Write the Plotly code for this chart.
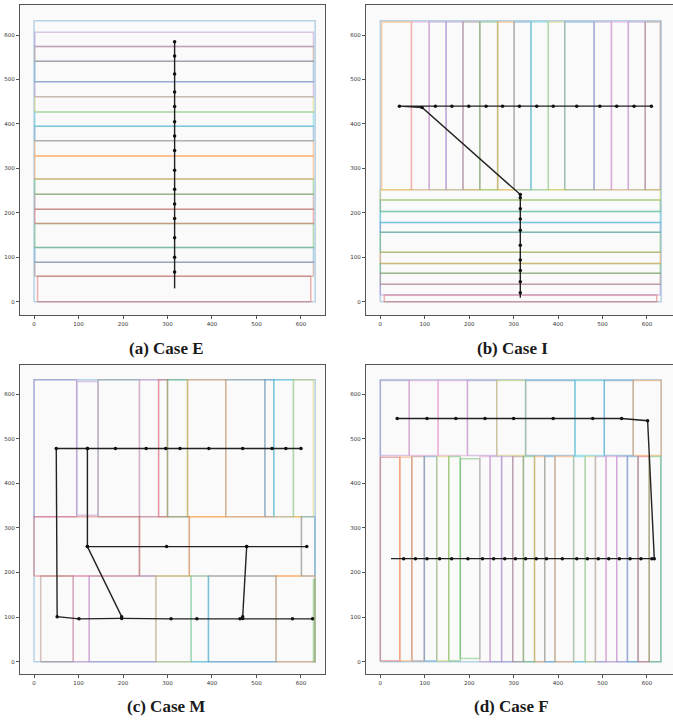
import plotly.graph_objects as go

# ---------------- data ----------------
# Room outline shared by all cases
room = [0, 632, 0, 632]

# Case E : horizontal strips  (x0, x1, y0, y1)
E_x0 = [8, 2, 2, 2, 2, 2, 2, 2, 2, 2, 2, 2, 2, 2, 2, 2]
E_x1 = [622, 628, 628, 628, 628, 628, 628, 628, 628, 628, 628, 628, 628, 628, 628, 628]
E_y0 = [0, 57, 89, 122, 176, 208, 242, 276, 328, 362, 395, 427, 461, 495, 541, 574]
E_y1 = [57, 89, 122, 176, 208, 242, 276, 328, 362, 395, 427, 461, 495, 541, 574, 606]
E_col = ["red", "brown", "blue", "green", "red", "brown", "green", "orange", "orange",
         "blue", "cyan", "olive", "purple", "blue", "brown", "purple"]
E_path_x = [316] * 16
E_path_y = [30, 67, 100, 144, 187, 220, 253, 296, 340, 373, 405, 439, 472, 512, 553, 585]

# Case I : vertical strips on top, horizontal strips below
I_x0 = [3, 70, 110, 148, 186, 224, 264, 301, 339, 378, 415, 481, 520, 558, 596,
        9, 0, 0, 0, 0, 0, 0, 0, 0, 0]
I_x1 = [70, 110, 148, 186, 224, 264, 301, 339, 378, 415, 481, 520, 558, 596, 630,
        622, 630, 630, 630, 630, 630, 630, 630, 630, 630]
I_y0 = [252] * 15 + [0, 15, 39, 64, 86, 111, 156, 178, 203, 229]
I_y1 = [629] * 15 + [15, 39, 64, 86, 111, 156, 178, 203, 229, 252]
I_col = ["orange", "pink", "purple", "purple", "brown", "green", "orange", "blue", "cyan",
         "olive", "blue", "purple", "pink", "purple", "brown",
         "red", "purple", "brown", "green", "orange", "green", "blue", "cyan", "green", "olive"]
I_path_x = [315, 315, 315, 315, 315, 315, 315, 315, 315, 315, 315, 94, 43,
            124, 161, 199, 238, 275, 313, 352, 389, 442, 494, 532, 571, 610]
I_path_y = [9, 20, 45, 70, 94, 127, 161, 186, 209, 234, 241, 437, 440,
            440, 440, 440, 440, 440, 440, 440, 440, 440, 440, 440, 440, 440]

# Case M : mixed layout
M_x0 = [0, 96, 144, 237, 280, 300, 345, 431, 519, 539, 583,
        0, 237, 349, 601,
        15, 88, 124, 274, 353, 392, 544, 628]
M_x1 = [96, 144, 237, 280, 300, 345, 431, 519, 539, 583, 628,
        237, 349, 601, 631,
        88, 124, 274, 353, 392, 544, 631, 631]
M_y0 = [325, 328, 325, 325, 325, 325, 325, 325, 325, 325, 325,
        192, 192, 192, 192,
        0, 0, 0, 0, 0, 0, 0, 0]
M_y1 = [632, 628, 632, 632, 632, 632, 632, 632, 632, 632, 632,
        325, 325, 325, 325,
        192, 192, 192, 192, 192, 192, 192, 185]
M_col = ["purple", "purple", "gray", "pink", "red", "green", "orange", "gray", "blue", "cyan", "olive",
         "red", "brown", "orange", "blue",
         "brown", "pink", "purple", "olive", "cyan", "blue", "orange", "green"]
M_path_x = [52, 120, 183, 252, 296, 328, 393, 469, 535, 566, 600, None,
            50, 52, 101, 197, 308, 366, 463, 469, 581, 626, None,
            120, 120, 298, 478, 613, None,
            120, 197, None,
            478, 469]
M_path_y = [478, 478, 478, 478, 478, 478, 478, 478, 478, 478, 478, None,
            478, 101, 96, 97, 96, 96, 96, 97, 96, 96, None,
            478, 258, 258, 258, 258, None,
            258, 101, None,
            258, 101]

# Case F : vertical strips in two bands
F_x0 = [0, 65, 130, 196, 262, 327, 438, 504, 569,
        0, 44, 71, 99, 127, 154, 180, 224, 247, 273, 298, 322, 347, 370, 393, 435,
        461, 484, 508, 532, 556, 580, 605]
F_x1 = [65, 130, 196, 262, 327, 438, 504, 569, 632,
        44, 71, 99, 127, 154, 180, 224, 247, 273, 298, 322, 347, 370, 393, 435, 461,
        484, 508, 532, 556, 580, 605, 631]
F_y0 = [462] * 9 + [2, 2, 2, 2, 2, 2, 7] + [0] * 16
F_y1 = [630] * 9 + [458, 458, 460, 460, 460, 460, 455] + [460] * 16
F_col = ["purple", "pink", "pink", "purple", "olive", "blue", "cyan", "blue", "orange",
         "red", "orange", "brown", "blue", "olive", "green", "green", "pink", "purple",
         "purple", "brown", "green", "orange", "blue", "orange", "cyan", "olive", "purple",
         "pink", "purple", "blue", "red", "green"]
F_path_x = [24, 52.5, 79, 105, 133.5, 160.5, 197, 230, 255, 280, 304, 327, 351, 374,
            409.5, 442, 466, 490.5, 514, 538, 562, 586.5, 611, 616.5,
            601.5, 543, 478, 389, 300, 235.6, 170, 105, 38]
F_path_y = [231] * 24 + [540, 545, 545, 545, 545, 545, 545, 545, 545]

captions = ["(a) Case E", "(b) Case I", "(c) Case M", "(d) Case F"]
tick_vals = [0, 100, 200, 300, 400, 500, 600]

# ---------------- styling ----------------
TAB10 = {"blue": (31, 119, 180), "orange": (255, 127, 14), "green": (44, 160, 44),
         "red": (214, 39, 40), "purple": (148, 103, 189), "brown": (140, 86, 75),
         "pink": (227, 119, 194), "gray": (127, 127, 127), "olive": (188, 189, 34),
         "cyan": (23, 190, 207)}


def rgba(name, a=0.35):
    r, g, b = TAB10[name]
    return f"rgba({r},{g},{b},{a})"


W, H = 673, 721
panels = [
    dict(rects=(E_x0, E_x1, E_y0, E_y1, E_col), path=(E_path_x, E_path_y),
         px=(20, 325), py=(5, 315), xr=(-31.5, 654), yr=(-29.9, 667.5), right=True,
         cap=(166, 348)),
    dict(rects=(I_x0, I_x1, I_y0, I_y1, I_col), path=(I_path_x, I_path_y),
         px=(366, 673), py=(5, 315), xr=(-32.2, 658.6), yr=(-29.9, 667.5), right=False,
         cap=(512, 348)),
    dict(rects=(M_x0, M_x1, M_y0, M_y1, M_col), path=(M_path_x, M_path_y),
         px=(20, 325), py=(365, 674), xr=(-31.5, 654), yr=(-27.6, 665), right=True,
         cap=(166, 706)),
    dict(rects=(F_x0, F_x1, F_y0, F_y1, F_col), path=(F_path_x, F_path_y),
         px=(366, 673), py=(365, 674), xr=(-32.2, 658.6), yr=(-27.6, 665), right=False,
         cap=(511, 706)),
]

fig = go.Figure()
layout = {}
annotations = []

for i, p in enumerate(panels, start=1):
    xa = "x" if i == 1 else f"x{i}"
    ya = "y" if i == 1 else f"y{i}"
    xkey = "xaxis" if i == 1 else f"xaxis{i}"
    ykey = "yaxis" if i == 1 else f"yaxis{i}"

    # room outline
    fig.add_trace(go.Scatter(
        x=[room[0], room[1], room[1], room[0], room[0]],
        y=[room[2], room[2], room[3], room[3], room[2]],
        mode="lines", line=dict(color=rgba("blue", 0.3), width=1.5),
        xaxis=xa, yaxis=ya, hoverinfo="skip", showlegend=False))

    x0s, x1s, y0s, y1s, cols = p["rects"]
    for x0, x1, y0, y1, c in zip(x0s, x1s, y0s, y1s, cols):
        fig.add_trace(go.Scatter(
            x=[x0, x1, x1, x0, x0], y=[y0, y0, y1, y1, y0],
            mode="lines", line=dict(color=rgba(c), width=1.5),
            xaxis=xa, yaxis=ya, hoverinfo="skip", showlegend=False))

    px_, py_ = p["path"]
    fig.add_trace(go.Scatter(
        x=px_, y=py_, mode="lines", line=dict(color="#222222", width=1.4),
        xaxis=xa, yaxis=ya, hoverinfo="skip", showlegend=False, connectgaps=False))
    mx = [v for v in px_[1:]]
    my = [v for v in py_[1:]]
    fig.add_trace(go.Scatter(
        x=mx, y=my, mode="markers",
        marker=dict(color="#111111", size=3.5, symbol="circle"),
        xaxis=xa, yaxis=ya, hoverinfo="skip", showlegend=False))

    dx = [p["px"][0] / W, p["px"][1] / W]
    dy = [1 - p["py"][1] / H, 1 - p["py"][0] / H]
    common = dict(showgrid=False, zeroline=False, showline=True, linecolor="#555555",
                  linewidth=1.3, ticks="outside", ticklen=3, tickwidth=0.8,
                  tickcolor="#555555", tickvals=tick_vals,
                  tickfont=dict(size=5.5, color="#333333", family="DejaVu Sans"),
                  fixedrange=True)
    layout[xkey] = dict(common, domain=dx, range=list(p["xr"]), anchor=ya, mirror=True)
    layout[ykey] = dict(common, domain=dy, range=list(p["yr"]), anchor=xa,
                        mirror=p["right"])

    annotations.append(dict(
        text=f"<b>{captions[i - 1]}</b>", xref="paper", yref="paper",
        x=p["cap"][0] / W, y=1 - p["cap"][1] / H, xanchor="center", yanchor="middle",
        showarrow=False, font=dict(family="Liberation Serif", size=17, color="#1a1a1a")))

fig.update_layout(
    width=W, height=H, margin=dict(l=0, r=0, t=0, b=0),
    paper_bgcolor="white", plot_bgcolor="#fafafb",
    annotations=annotations, showlegend=False, **layout)

fig.write_html("out.html", config={"displayModeBar": False},
               post_script="document.body.style.margin='0';document.body.style.overflow='hidden';")
